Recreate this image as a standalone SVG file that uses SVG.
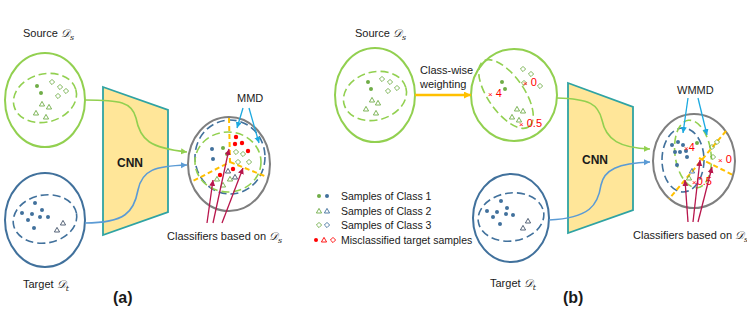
<svg xmlns="http://www.w3.org/2000/svg" width="747" height="327" viewBox="0 0 747 327">
<defs>
<style>
text{font-family:"Liberation Sans",Arial,sans-serif;fill:#1a1a1a}
.lbl{font-size:11px}
.m{font-family:"DejaVu Serif","Liberation Serif",serif;font-style:italic}
.sub{font-size:8px}
.gC{fill:none;stroke:#92D050;stroke-width:2}
.bC{fill:none;stroke:#41719C;stroke-width:2}
.gray{fill:none;stroke:#7F7F7F;stroke-width:2}
.gD{fill:none;stroke:#92D050;stroke-width:1.6;stroke-dasharray:8 4}
.bD{fill:none;stroke:#41719C;stroke-width:1.6;stroke-dasharray:8 4}
.yD{fill:none;stroke:#FFC000;stroke-width:2;stroke-dasharray:5 3}
.cnn{fill:#FFE699;stroke:#2FA3A3;stroke-width:1.8}
.gdot{fill:#70AD47}
.bdot{fill:#41719C}
.rdot{fill:#FF0000}
.gt{fill:none;stroke:#70AD47;stroke-width:0.9}
.bt{fill:none;stroke:#41719C;stroke-width:0.9}
.kt{fill:none;stroke:#44546A;stroke-width:0.9}
.rt{fill:none;stroke:#FF0000;stroke-width:0.9}
.gCurve{fill:none;stroke:#92D050;stroke-width:1.6}
.bCurve{fill:none;stroke:#5B9BD5;stroke-width:1.6}
.cyan{fill:none;stroke:#1CA9E0;stroke-width:1.3}
.crim{fill:none;stroke:#B8164C;stroke-width:1.3}
.red{fill:#FF0000;font-size:11px}
</style>
<marker id="ag" markerWidth="8" markerHeight="8" refX="6" refY="3" orient="auto" markerUnits="userSpaceOnUse"><path d="M0,0 L6,3 L0,6 z" fill="#92D050"/></marker>
<marker id="ab" markerWidth="8" markerHeight="8" refX="6" refY="3" orient="auto" markerUnits="userSpaceOnUse"><path d="M0,0 L6,3 L0,6 z" fill="#5B9BD5"/></marker>
<marker id="ac" markerWidth="8" markerHeight="8" refX="6" refY="3" orient="auto" markerUnits="userSpaceOnUse"><path d="M0,0 L6,3 L0,6 z" fill="#1CA9E0"/></marker>
<marker id="ar" markerWidth="8" markerHeight="8" refX="6" refY="3" orient="auto" markerUnits="userSpaceOnUse"><path d="M0,0 L6,3 L0,6 z" fill="#B8164C"/></marker>
<marker id="ay" markerWidth="10" markerHeight="10" refX="7" refY="3.5" orient="auto" markerUnits="userSpaceOnUse"><path d="M0,0 L7,3.5 L0,7 z" fill="#FFC000"/></marker>
<path id="tri" d="M0,-2.6 L2.6,2 L-2.6,2 z"/>
<path id="dia" d="M0,-2.6 L2.6,0 L0,2.6 L-2.6,0 z"/>
</defs>
<rect width="747" height="327" fill="#fff"/>

<!-- ===== Panel (a) ===== -->
<g id="a-source">
<text class="lbl" x="23" y="37">Source <tspan class="m">𝒟</tspan><tspan class="m sub" dy="3">s</tspan></text>
<ellipse class="gC" cx="45" cy="100" rx="40" ry="47"/>
<ellipse class="gD" cx="45" cy="98" rx="32" ry="24" transform="rotate(-15 45 98)"/>
<circle class="gdot" cx="37" cy="86" r="2"/><circle class="gdot" cx="41" cy="93" r="2"/>
<use href="#dia" class="gt" x="52" y="82"/><use href="#dia" class="gt" x="60" y="87"/><use href="#dia" class="gt" x="66" y="91"/><use href="#dia" class="gt" x="58" y="96"/>
<use href="#tri" class="gt" x="42" y="104"/><use href="#tri" class="gt" x="49" y="107"/><use href="#tri" class="gt" x="36" y="113"/><use href="#tri" class="gt" x="46" y="117"/>
</g>

<g id="a-target">
<ellipse class="bC" cx="45" cy="220" rx="40" ry="47"/>
<ellipse class="bD" cx="45" cy="219" rx="32" ry="24" transform="rotate(-10 45 219)"/>
<circle class="bdot" cx="35" cy="203" r="2"/><circle class="bdot" cx="22" cy="213" r="2"/><circle class="bdot" cx="32" cy="214" r="2"/><circle class="bdot" cx="42" cy="210" r="2"/><circle class="bdot" cx="28" cy="220" r="2"/><circle class="bdot" cx="40" cy="217" r="2"/><circle class="bdot" cx="48" cy="217" r="2"/><circle class="bdot" cx="34" cy="228" r="2"/>
<use href="#tri" class="kt" x="63" y="223"/><use href="#tri" class="kt" x="57" y="230"/>
<text class="lbl" x="23" y="288">Target <tspan class="m">𝒟</tspan><tspan class="m sub" dy="3">t</tspan></text>
</g>

<g id="a-cnn">
<polygon class="cnn" points="103,87 168,110 168,212 103,235"/>
<text x="117" y="167" font-size="12" font-weight="bold">CNN</text>
</g>

<g id="a-output">
<ellipse class="gray" cx="229" cy="164" rx="41" ry="47"/>
<ellipse class="bD" cx="230" cy="157" rx="35" ry="37"/>
<ellipse class="gD" cx="228" cy="162" rx="33" ry="30"/>
<polyline class="yD" points="229,118 230,162 193,181"/>
<line class="yD" x1="230" y1="162" x2="267" y2="177"/>
<circle class="rdot" cx="236" cy="137" r="2.2"/><circle class="rdot" cx="235" cy="144" r="2.2"/><circle class="rdot" cx="242" cy="143" r="2.2"/><circle class="rdot" cx="248" cy="151" r="2.2"/><circle class="rdot" cx="220" cy="175" r="2.2"/><circle class="rdot" cx="233" cy="169" r="2.2"/>
<circle class="bdot" cx="212" cy="149" r="2"/><circle class="bdot" cx="213" cy="159" r="2"/>
<circle class="gdot" cx="223" cy="148" r="2"/><circle class="gdot" cx="227" cy="154" r="2"/>
<use href="#dia" class="gt" x="236" y="152"/><use href="#dia" class="gt" x="243" y="154"/><use href="#dia" class="gt" x="238" y="162"/><use href="#dia" class="gt" x="249" y="162"/>
<use href="#tri" class="kt" x="228" y="171"/><use href="#tri" class="kt" x="235" y="177"/>
<use href="#tri" class="gt" x="217" y="179"/><use href="#tri" class="gt" x="230" y="179"/><use href="#tri" class="gt" x="223" y="185"/>
<text class="lbl" x="237" y="102">MMD</text>
<text class="lbl" x="167" y="240">Classifiers based on <tspan class="m">𝒟</tspan><tspan class="m sub" dy="3">s</tspan></text>
</g>
<text x="113" y="303" font-size="16" font-weight="bold">(a)</text>

<!-- ===== Panel (b) ===== -->
<g id="b-source">
<text class="lbl" x="355" y="37">Source <tspan class="m">𝒟</tspan><tspan class="m sub" dy="3">s</tspan></text>
<ellipse class="gC" cx="375" cy="95" rx="40" ry="47"/>
<ellipse class="gD" cx="375" cy="96" rx="32" ry="24" transform="rotate(-15 375 96)"/>
<circle class="gdot" cx="368" cy="82" r="2"/><circle class="gdot" cx="371" cy="89" r="2"/>
<use href="#dia" class="gt" x="382" y="79"/><use href="#dia" class="gt" x="390" y="82"/><use href="#dia" class="gt" x="397" y="88"/><use href="#dia" class="gt" x="388" y="91"/>
<use href="#tri" class="gt" x="372" y="100"/><use href="#tri" class="gt" x="378" y="103"/><use href="#tri" class="gt" x="366" y="109"/><use href="#tri" class="gt" x="376" y="113"/>
</g>

<g id="b-weighting">
<text class="lbl" x="420" y="74">Class-wise</text>
<text class="lbl" x="420" y="88">weighting</text>
</g>

<g id="b-weighted">
<ellipse class="gC" cx="514" cy="95" rx="43" ry="46"/>
<ellipse class="gD" cx="506" cy="94" rx="40" ry="18" transform="rotate(55 506 94)"/>
<circle class="gdot" cx="502" cy="82" r="2"/><circle class="gdot" cx="505" cy="89" r="2"/>
<use href="#dia" class="gt" x="523" y="69"/><use href="#dia" class="gt" x="531" y="74"/><use href="#dia" class="gt" x="524" y="83"/><use href="#dia" class="gt" x="540" y="86"/>
<use href="#tri" class="gt" x="517" y="109"/><use href="#tri" class="gt" x="523" y="111"/><use href="#tri" class="gt" x="512" y="117"/><use href="#tri" class="gt" x="519" y="120"/>
<text class="red" x="488" y="97" font-size="12"><tspan font-size="8">×</tspan> 4</text>
<text class="red" x="523" y="86" font-size="12"><tspan font-size="8">×</tspan> 0</text>
<text class="red" x="519" y="127" font-size="12"><tspan font-size="8">×</tspan> 0.5</text>
</g>

<g id="b-legend" font-size="10.5">
<circle class="gdot" cx="319" cy="196" r="2"/><circle class="bdot" cx="327" cy="196" r="2"/>
<text x="341" y="200" font-size="10.5">Samples of Class 1</text>
<use href="#tri" class="gt" x="319" y="211"/><use href="#tri" class="bt" x="327" y="211"/>
<text x="341" y="215" font-size="10.5">Samples of Class 2</text>
<use href="#dia" class="gt" x="319" y="225"/><use href="#dia" class="bt" x="327" y="225"/>
<text x="341" y="229" font-size="10.5">Samples of Class 3</text>
<circle class="rdot" cx="316" cy="240" r="2"/><use href="#tri" class="rt" x="324" y="240"/><use href="#dia" class="rt" x="333" y="240"/>
<text x="341" y="244" font-size="10.5">Misclassified target samples</text>
</g>

<g id="b-target">
<ellipse class="bC" cx="511" cy="218" rx="38" ry="44"/>
<ellipse class="bD" cx="511" cy="217" rx="33" ry="24" transform="rotate(-8 511 217)"/>
<circle class="bdot" cx="501" cy="201" r="2"/><circle class="bdot" cx="487" cy="211" r="2"/><circle class="bdot" cx="497" cy="212" r="2"/><circle class="bdot" cx="507" cy="208" r="2"/><circle class="bdot" cx="493" cy="217" r="2"/><circle class="bdot" cx="506" cy="214" r="2"/><circle class="bdot" cx="513" cy="215" r="2"/><circle class="bdot" cx="500" cy="224" r="2"/>
<use href="#tri" class="kt" x="528" y="221"/><use href="#tri" class="kt" x="523" y="228"/>
<text class="lbl" x="490" y="287">Target <tspan class="m">𝒟</tspan><tspan class="m sub" dy="3">t</tspan></text>
</g>

<g id="b-cnn">
<polygon class="cnn" points="568,83 633,107 633,210 568,233"/>
<text x="582" y="164" font-size="12" font-weight="bold">CNN</text>
</g>

<g id="b-output">
<ellipse class="gray" cx="694" cy="161" rx="41" ry="47"/>
<ellipse class="bD" cx="683" cy="160" rx="21" ry="32"/>
<ellipse class="gD" cx="693" cy="154" rx="18" ry="34" transform="rotate(-8 693 154)"/>
<line class="yD" x1="726" y1="131" x2="669" y2="199"/>
<line class="yD" x1="699" y1="158" x2="733" y2="175"/>
<circle class="bdot" cx="672" cy="145" r="2"/><circle class="bdot" cx="678" cy="142" r="2"/><circle class="bdot" cx="683" cy="145" r="2"/><circle class="bdot" cx="675" cy="152" r="2"/><circle class="bdot" cx="680" cy="152" r="2"/><circle class="bdot" cx="686" cy="151" r="2"/><circle class="bdot" cx="687" cy="157" r="2"/><circle class="bdot" cx="677" cy="165" r="2"/>
<circle class="gdot" cx="697" cy="143" r="2"/>
<use href="#dia" class="gt" x="712" y="147"/><use href="#dia" class="gt" x="717" y="142"/><use href="#dia" class="gt" x="713" y="157"/>
<use href="#tri" class="bt" x="692" y="171"/><use href="#tri" class="gt" x="689" y="178"/>
<text class="red" x="684" y="151" font-size="13"><tspan font-size="8">×</tspan>4</text>
<text class="red" x="718" y="163" font-size="13"><tspan font-size="8">×</tspan> 0</text>
<text class="red" x="692" y="185" font-size="13"><tspan font-size="8">×</tspan>0.5</text>
<text class="lbl" x="677" y="94">WMMD</text>
<text class="lbl" x="633" y="239">Classifiers based on <tspan class="m">𝒟</tspan><tspan class="m sub" dy="3">s</tspan></text>
</g>
<text x="563" y="303" font-size="16" font-weight="bold">(b)</text>

<!-- ===== Connectors ===== -->
<g id="connectors">
<path class="gCurve" marker-end="url(#ag)" d="M85,100 C120,100 132,102 136,118 C140,140 150,148 187,152"/>
<path class="bCurve" marker-end="url(#ab)" d="M85,223 C125,223 134,212 138,190 C142,170 155,166 187,165"/>
<line class="cyan" marker-end="url(#ac)" x1="243" y1="108" x2="237" y2="128"/>
<line class="cyan" marker-end="url(#ac)" x1="249" y1="108" x2="259" y2="143"/>
<line class="crim" marker-end="url(#ar)" x1="207" y1="223" x2="213" y2="180"/>
<line class="crim" marker-end="url(#ar)" x1="213" y1="223" x2="229" y2="149"/>
<line class="crim" marker-end="url(#ar)" x1="222" y1="223" x2="243" y2="168"/>
<line stroke="#FFC000" stroke-width="2.5" marker-end="url(#ay)" x1="415" y1="95" x2="471" y2="95"/>
<path class="gCurve" marker-end="url(#ag)" d="M557,98 C590,99 598,104 602,120 C606,140 620,148 650,149"/>
<path class="bCurve" marker-end="url(#ab)" d="M549,220 C590,218 598,205 601,185 C604,170 618,163 650,162"/>
<line class="cyan" marker-end="url(#ac)" x1="688" y1="98" x2="683" y2="133"/>
<line class="cyan" marker-end="url(#ac)" x1="698" y1="98" x2="707" y2="135"/>
<line class="crim" marker-end="url(#ar)" x1="688" y1="222" x2="685" y2="180"/>
<line class="crim" marker-end="url(#ar)" x1="693" y1="222" x2="700" y2="160"/>
<line class="crim" marker-end="url(#ar)" x1="698" y1="222" x2="712" y2="167"/>
</g>
</svg>
